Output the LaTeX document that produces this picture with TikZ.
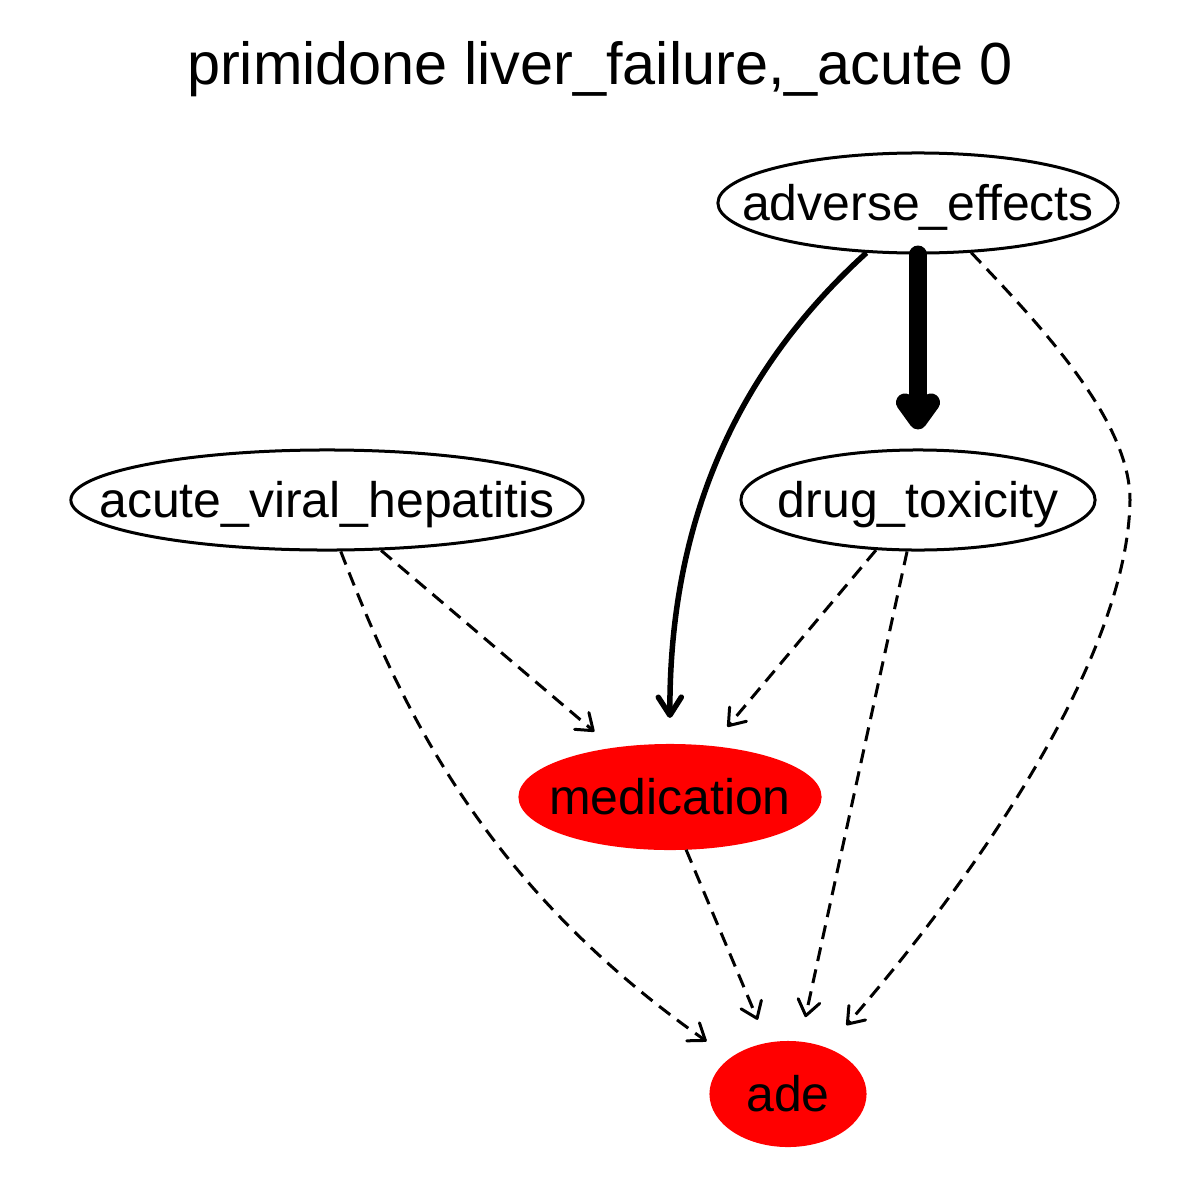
\documentclass[tikz,border=0pt]{standalone}
\usepackage{fontspec}
\setmainfont{Liberation Sans}
\usetikzlibrary{shapes.geometric,arrows.meta}

\newcommand\lbl[1]{\makebox[0pt]{#1}} %keeps the ellipse at its given size

\tikzset{
	var/.style={ellipse,draw,line width=0.03cm,inner sep=0pt,minimum height=1cm,
		text height=0.34cm,text depth=0pt,font=\fontsize{14.2}{17}\selectfont},
	hit/.style={var,draw=red,fill=red,minimum height=1.03cm},
	weak/.style={line width=0.03cm,dash pattern=on 0.14cm off 0.085cm,
		-{Straight Barb[length=0.15cm,width=0.22cm,round]},shorten >=0.25cm},
	strong/.style={line width=0.055cm,-{Straight Barb[length=0.18cm,width=0.23cm,round]},shorten >=0.26cm},
	heavy/.style={line width=0.18cm,line cap=round,-{Straight Barb[length=0.18cm,width=0.26cm,round]},shorten >=0.19cm}
}

\begin{document}
\begin{tikzpicture}[x=0.01cm,y=-0.01cm]
	\useasboundingbox (0,0) rectangle (1200,1200);
	
	%TITLE
	\node[anchor=base,font=\fontsize{16.9}{20}\selectfont] (title) at (600,84) {primidone liver\_failure,\_acute 0};
	
	%NODES
	\node[var,minimum width=4cm] (ae) at (918,203) {\lbl{adverse\_effects}};
	\node[var,minimum width=5.12cm] (avh) at (327,500) {\lbl{acute\_viral\_hepatitis}};
	\node[var,minimum width=3.54cm] (dt) at (918,500) {\lbl{drug\_toxicity}};
	\node[hit,minimum width=3cm] (med) at (670,797) {\lbl{medication}};
	\node[hit,minimum width=1.54cm] (ade) at (788,1094) {\lbl{ade}};
	
	%ARROWS
	\draw[heavy] (ae.south) -- (dt.north);
	\draw[strong] (ae.224) .. controls (756,353) and (669,496) .. (med.north);
	\draw[weak,shorten >=0.3cm] (ae.-43) .. controls (1040,325) and (1130,420) .. (1130,500)
		.. controls (1128,650) and (989,861) .. (ade.50); %long way round
	\draw[weak] (avh.-43) -- (med.139.5);
	\draw[weak,shorten >=0.29cm] (avh.-75) .. controls (400,704) and (480,882) .. (ade.148);
	\draw[weak] (dt.230) -- (med.51.5);
	\draw[weak] (dt.258) -- (ade.77);
	\draw[weak] (med.-73) -- (ade.112.5);
\end{tikzpicture}
\end{document}
